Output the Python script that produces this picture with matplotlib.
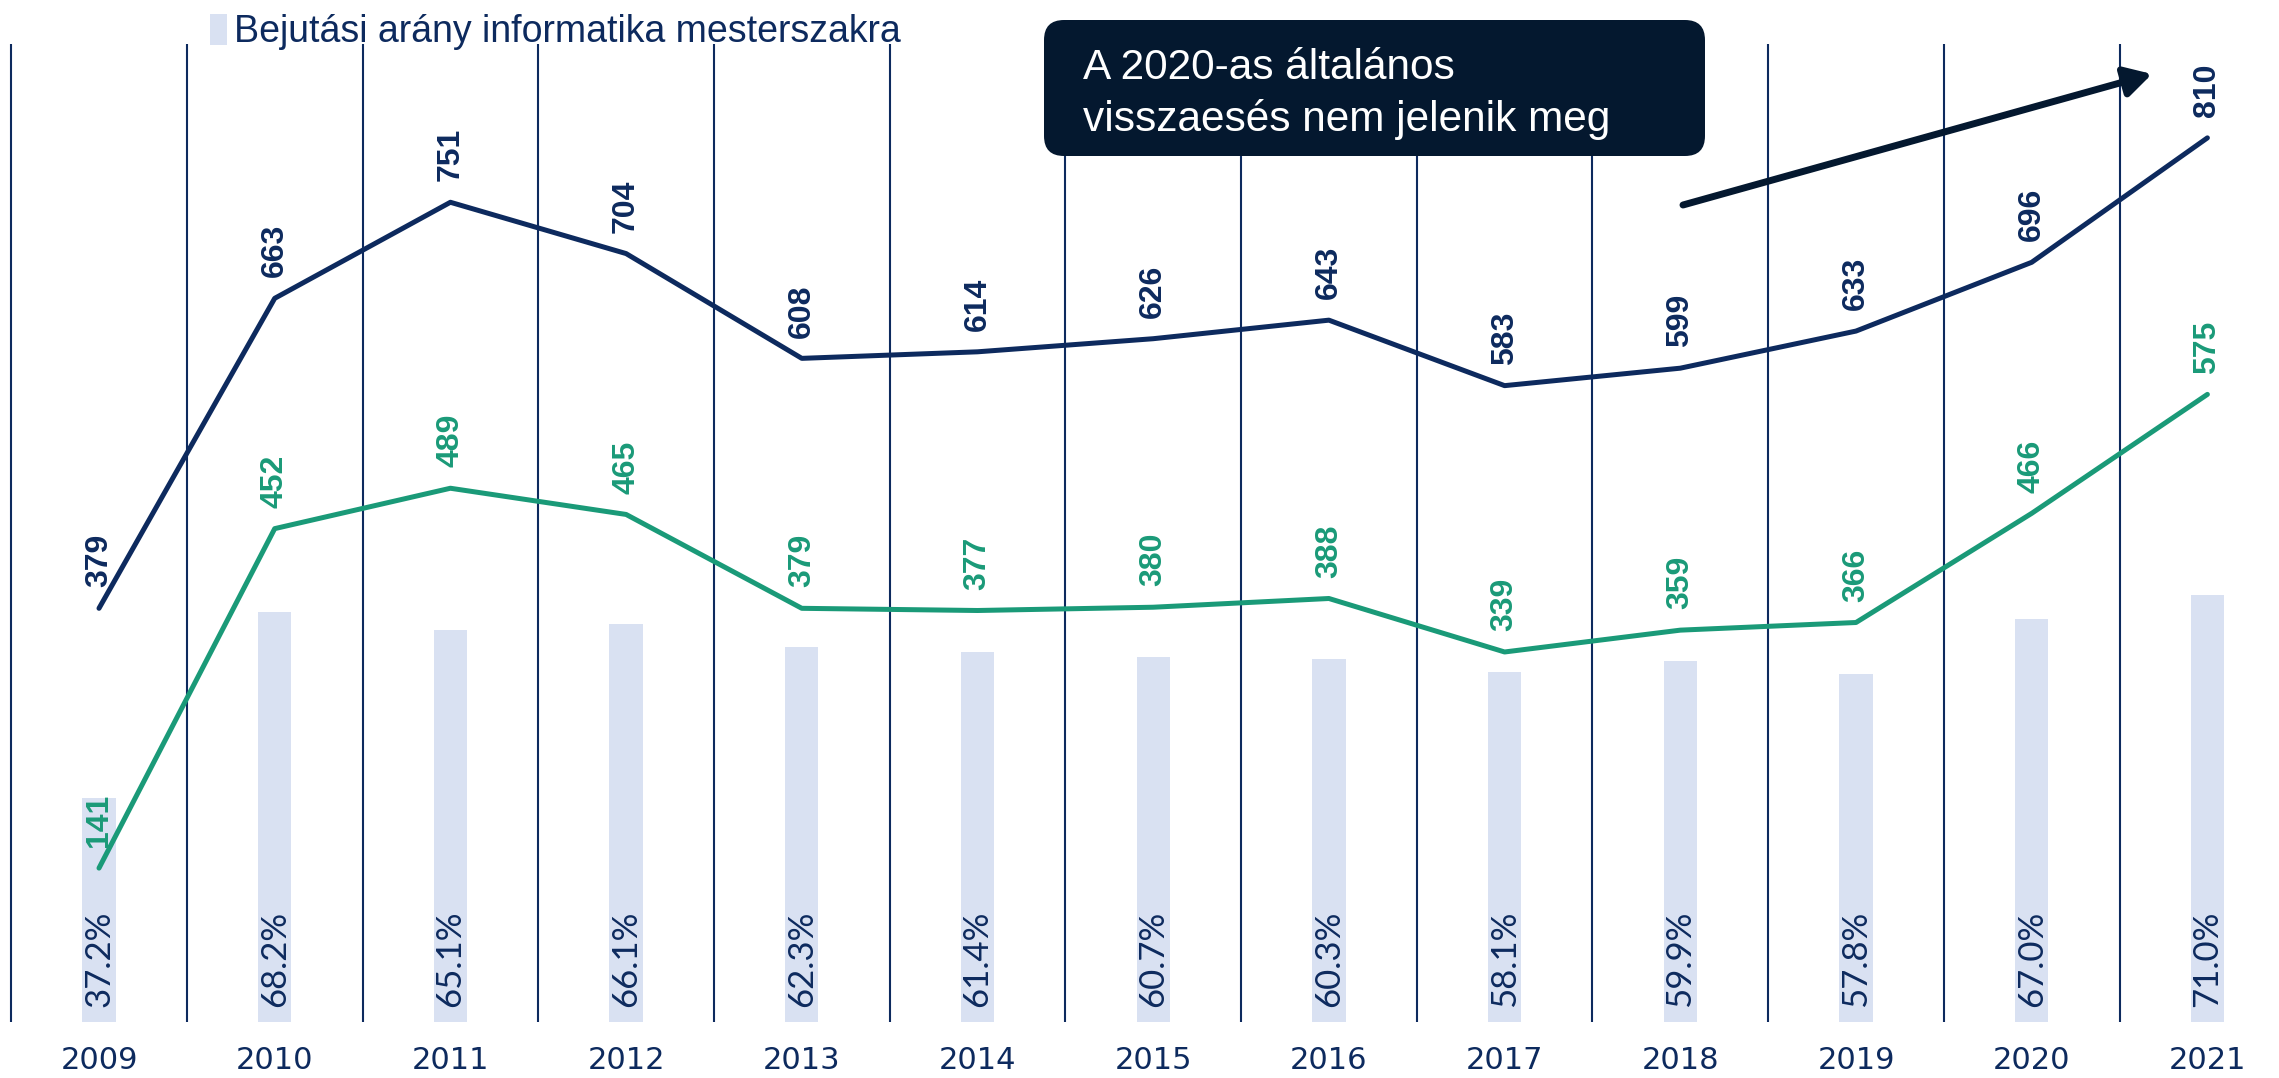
import matplotlib
matplotlib.use("Agg")
import matplotlib.pyplot as plt
from matplotlib.patches import FancyBboxPatch
from matplotlib.transforms import IdentityTransform

plt.rcParams['font.family'] = ['Liberation Sans', 'DejaVu Sans']

# adatok
years = ['2009', '2010', '2011', '2012', '2013', '2014', '2015',
         '2016', '2017', '2018', '2019', '2020', '2021']
jelentkezok = [379, 663, 751, 704, 608, 614, 626, 643, 583, 599, 633, 696, 810]
felvettek = [141, 452, 489, 465, 379, 377, 380, 388, 339, 359, 366, 466, 575]
arany = [37.2, 68.2, 65.1, 66.1, 62.3, 61.4, 60.7, 60.3, 58.1, 59.9, 57.8, 67.0, 71.0]

navy = '#0d2a5e'
green = '#1a9a78'
barcol = '#d9e1f2'
boxcol = '#04182f'

W, H = 2279, 1078
fig = plt.figure(figsize=(W / 100, H / 100), dpi=100)
ax = fig.add_axes([0, 1 - 1022 / H, 1, (1022 - 44) / H])
x = list(range(len(years)))

# oszlopok (bejutasi arany)
bars = ax.bar(x, arany, width=0.19, color=barcol, zorder=1)
ax.set_xlim(-99 / 175.7, (W - 99) / 175.7)
ax.set_ylim(0, 162.5)
for i in x:
    ax.axvline(i - 0.5, color=navy, lw=1.5, zorder=0)
    ax.annotate(f'{arany[i]:.1f}%', xy=(i, 0), xytext=(0, 11), textcoords='offset points',
                rotation=90, ha='center', va='bottom', fontsize=25, color=navy,
                family=['Lato', 'DejaVu Sans'], fontweight='normal')
    ax.annotate(years[i], xy=(i, 0), xytext=(0, -28), textcoords='offset points',
                ha='center', va='center', fontsize=22, color=navy,
                family=['DejaVu Sans'])
for s in ax.spines.values():
    s.set_visible(False)
ax.set_xticks([])
ax.set_yticks([])

# vonalak
ax2 = ax.twinx()
ax2.set_ylim(0, 896)
ax2.plot(x, jelentkezok, color=navy, lw=3.6, solid_capstyle='round', zorder=3)
ax2.plot(x, felvettek, color=green, lw=3.6, solid_capstyle='round', zorder=3)
for i in x:
    ax2.annotate(str(jelentkezok[i]), xy=(i, jelentkezok[i]), xytext=(0, 15),
                 textcoords='offset points', rotation=90, ha='center', va='bottom',
                 fontsize=23, fontweight='bold', color=navy)
    ax2.annotate(str(felvettek[i]), xy=(i, felvettek[i]), xytext=(0, 15),
                 textcoords='offset points', rotation=90, ha='center', va='bottom',
                 fontsize=23, fontweight='bold', color=green)
for s in ax2.spines.values():
    s.set_visible(False)
ax2.set_yticks([])

# jelmagyarazat
fig.legend([bars], ['Bejutási arány informatika mesterszakra'], loc='upper left',
           bbox_to_anchor=(176 / W, 1 + 20 / H), frameon=False, fontsize=27,
           handlelength=0.45, handleheight=0.9, handletextpad=0.2, labelcolor=navy)

# megjegyzes doboz
box = FancyBboxPatch((1044, H - 156), 661, 136, boxstyle='round,pad=0,rounding_size=20',
                     transform=IdentityTransform(), facecolor=boxcol, edgecolor='none')
fig.patches.append(box)
fig.text(1083 / W, 1 - 68 / H, 'A 2020-as általános', color='white', fontsize=30.5,
         va='center', ha='left')
fig.text(1083 / W, 1 - 119 / H, 'visszaesés nem jelenik meg', color='white', fontsize=30.5,
         va='center', ha='left')

# nyil
ax2.annotate('', xy=(2152, H - 74), xycoords='figure pixels',
             xytext=(1683, H - 205), textcoords='figure pixels',
             arrowprops=dict(arrowstyle='-|>,head_length=0.8,head_width=0.45', lw=5,
                             color=boxcol, mutation_scale=20, shrinkA=0, shrinkB=0,
                             capstyle='round'))

fig.savefig('out.png', dpi=100)
